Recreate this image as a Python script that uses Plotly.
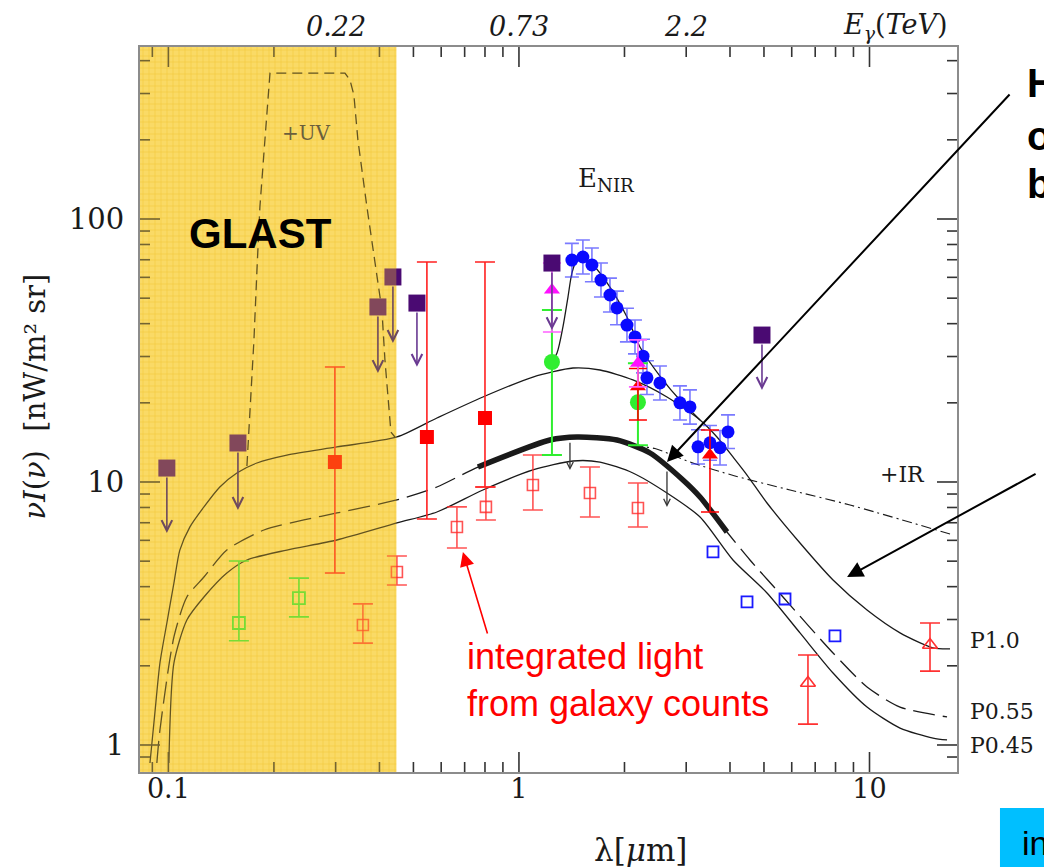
import numpy as np
import plotly.graph_objects as go

# ---------------- model curves: wavelength [micron] vs nuI_nu [nW m^-2 sr^-1] ----------------
lam_p10 = [0.0886, 0.0915, 0.0946, 0.099, 0.1037, 0.1078, 0.1151, 0.1263, 0.1402, 0.1568, 0.1789,
           0.2178, 0.3025, 0.4486, 0.5834, 0.7893, 1.096, 1.426, 1.703, 2.114, 2.644, 3.285, 3.672,
           4.079, 4.473, 5.101, 6.335, 7.87, 9.838, 12.22, 15.18, 16.97]
nui_p10 = [0.854, 1.323, 2.05, 2.91, 4.13, 5.51, 6.74, 8.04, 9.57, 10.82, 11.81,
           12.66, 13.59, 14.83, 17.51, 21.05, 25.07, 27.13, 26.66, 24.43, 21.05, 17.21, 14.83,
           12.45, 10.63, 8.32, 5.86, 4.24, 3.26, 2.67, 2.34, 2.32]

lam_p055 = [0.0927, 0.0946, 0.1037, 0.1129, 0.1263, 0.1468, 0.1873, 0.2435, 0.3025, 0.4486, 0.5834,
            0.7637, 1.226, 1.464, 1.904, 2.365, 2.937, 3.285, 3.921, 4.561, 5.665, 7.87, 9.838,
            12.22, 16.64]
nui_p055 = [0.854, 1.14, 2.575, 3.653, 4.352, 5.513, 6.569, 7.171, 7.624, 8.542, 9.572,
            11.40, 14.44, 14.83, 14.44, 12.89, 10.18, 8.77, 6.454, 5.052, 3.653, 2.238, 1.662,
            1.394, 1.278]

lam_p045 = [0.1003, 0.1037, 0.1129, 0.1263, 0.1468, 0.1675, 0.2178, 0.3025, 0.4486, 0.5834, 0.7893,
            1.096, 1.426, 1.703, 2.114, 2.644, 3.285, 4.079, 5.101, 6.335, 7.87, 9.838, 12.22,
            15.18, 16.64]
nui_p045 = [0.854, 2.05, 2.988, 3.653, 4.508, 5.052, 5.513, 6.018, 6.985, 7.69, 9.325,
            11.11, 12.02, 11.91, 10.82, 9.08, 7.36, 5.052, 3.784, 2.667, 1.878, 1.394, 1.16,
            1.063, 1.045]

# wavelength window of the thick (probed) part of the P0.55 curve
thick_range = (0.76, 3.95)

# "+UV" component
lam_uv = [0.1675, 0.1697, 0.1719, 0.1754, 0.1789, 0.1824, 0.1885, 0.1935, 0.1949, 0.3189, 0.3295,
          0.3382, 0.3472, 0.3684, 0.3935, 0.4065, 0.4147, 0.4228, 0.4313, 0.4428]
nui_uv = [11.5, 15.77, 21.05, 34.67, 63.9, 111.1, 199.7, 323.2, 358.9, 358.9, 337.8,
          296.1, 199.7, 111.1, 62.3, 45.1, 29.1, 20.5, 15.49, 14.83]

# "+IR" component
lam_ir = [2.114, 2.443, 3.075, 4.133, 5.933, 8.799, 16.97]
nui_ir = [13.75, 13.4, 11.91, 10.54, 9.325, 8.176, 6.343]

# near-IR excess (E_NIR) bump
lam_nir = [1.21, 1.284, 1.335, 1.38, 1.416, 1.464, 1.522, 1.626, 1.818, 2.033, 2.214, 2.576,
           2.879, 3.075, 3.285]
nui_nir = [27.13, 30.94, 38.85, 50.5, 62.3, 69.8, 71.1, 66.8, 55.1, 42.4, 32.6, 24.4,
           20.5, 18.8, 17.21]

# ---------------- measurements ----------------
# upper limits (purple squares with arrows)
ul_lam = [0.099, 0.1579, 0.396, 0.437, 0.5117, 1.242, 4.935]
ul_nui = [11.3, 14.07, 46.3, 60.2, 47.9, 68.0, 36.2]
ul_tip = [6.4, 7.83, 25.97, 33.8, 27.4, 37.8, 22.4]

# filled red squares
rsq_lam = [0.2985, 0.5463, 0.80]
rsq_nui = [11.91, 14.83, 17.51]
rsq_hi = [27.37, 68.6, 68.6]
rsq_lo = [4.51, 7.23, 9.57]

# integrated galaxy counts (open red squares)
gc_lam = [0.3588, 0.4486, 0.6654, 0.805, 1.096, 1.594, 2.185]
gc_nui = [2.86, 4.55, 6.74, 8.04, 9.74, 9.08, 7.96]
gc_hi = [3.44, 5.23, 8.04, 9.57, 12.66, 11.4, 9.91]
gc_lo = [2.44, 4.06, 5.61, 7.17, 7.83, 7.36, 6.74]

# green open squares (UV)
gsq_lam = [0.1589, 0.2357]
gsq_nui = [2.91, 3.62]
gsq_hi = [5.01, 4.31]
gsq_lo = [2.49, 3.07]

# green filled circles
gci_lam = [1.242, 2.185]
gci_nui = [28.6, 20.1]
gci_hi = [45.1, 28.3]
gci_lo = [12.66, 13.8]

# magenta triangles
mtr_lam = [1.242, 2.185]
mtr_nui = [53.7, 28.3]
mtr_hi = [68.0, 34.7]
mtr_lo = [37.2, 23.0]

# red filled triangles
rtr_lam = [2.185, 3.507]
rtr_nui = [23.0, 12.66]
rtr_hi = [27.0, 15.77]
rtr_lo = [17.2, 7.69]

# red open triangles (mid-IR)
rto_lam = [6.675, 14.88]
rto_nui = [1.72, 2.40]
rto_hi = [2.20, 2.91]
rto_lo = [1.20, 1.91]

# blue open squares
bsq_lam = [3.577, 4.473, 5.741, 7.97]
bsq_nui = [5.42, 3.50, 3.59, 2.60]

# blue filled circles (near-IR measurements)
bci_lam = [1.416, 1.522, 1.615, 1.714, 1.818, 1.904, 2.033, 2.143, 2.259, 2.318, 2.525, 2.879,
           3.075, 3.242, 3.507, 3.746, 3.948]
bci_nui = [69.8, 71.7, 66.9, 58.6, 51.4, 45.9, 39.5, 35.6, 30.1, 24.9, 23.8, 20.0,
           19.3, 13.6, 14.1, 13.5, 15.5]
bci_plus = [11, 11.5, 10.7, 9.4, 8.2, 7.3, 6.3, 5.7, 4.8, 4.0, 3.8, 3.2, 3.1, 2.2, 2.3, 2.2, 2.5]
bci_minus = [9.6, 9.9, 9.2, 8.1, 7.1, 6.3, 5.4, 4.9, 4.1, 3.4, 3.3, 2.8, 2.7, 1.9, 2.0, 1.9, 2.1]

# upper-limit arrows on the thick curve
bl_lam = [1.398, 2.644]
bl_from = [14.3, 11.1]
bl_to = [11.1, 8.04]

# top axis: gamma-ray energies corresponding to wavelengths
top_tick_lam = [0.3, 1.0, 3.0]
top_tick_text = ["0.22", "0.73", "2.2"]

x_tick_vals = [0.1, 1, 10]
x_tick_text = ["0.1", "1", "10"]
y_tick_vals = [1, 10, 100]
y_tick_text = ["1", "10", "100"]
minor_x = [0.09, 0.2, 0.3, 0.4, 0.5, 0.6, 0.7, 0.8, 0.9, 2, 3, 4, 5, 6, 7, 8, 9]
minor_y = [0.9, 2, 3, 4, 5, 6, 7, 8, 9, 20, 30, 40, 50, 60, 70, 80, 90, 200, 300, 400]

glast_band = (0.08, 0.447)

# ---------------- styling ----------------
SERIF = "DejaVu Serif"
SANS = "Liberation Sans"
INK = "#1a1a1a"
TICK = "#333333"
X_RANGE = [-1.081, 1.2496]
Y_RANGE = [-0.1027, 2.654]
W, H = 1044, 867
MARGIN = dict(l=140, r=87, t=47, b=95)
MAJOR_LEN, MINOR_LEN = 20, 10   # tick lengths in pixels


def err(y, hi, lo, color, width=8, thick=1.6):
    y = np.asarray(y, float)
    return dict(type="data", symmetric=False, array=np.asarray(hi) - y,
                arrayminus=y - np.asarray(lo), color=color, thickness=thick, width=width)


fig = go.Figure()

# GLAST band background (fine grid fill)
fig.add_trace(go.Scatter(
    x=[glast_band[0], glast_band[1], glast_band[1], glast_band[0], glast_band[0]],
    y=[0.5, 0.5, 900, 900, 0.5], mode="lines", fill="toself", line=dict(width=0),
    fillcolor="#fde07a",
    fillpattern=dict(shape="+", bgcolor="#fde382", fgcolor="#e8b620", size=6, solidity=0.25),
    hoverinfo="skip"))


def curve(x, y, dash="solid", width=1.3, shape="spline"):
    return go.Scatter(x=x, y=y, mode="lines", hoverinfo="skip",
                      line=dict(color=INK, width=width, dash=dash, shape=shape, smoothing=0.7))


fig.add_trace(curve(lam_p10, nui_p10))
fig.add_trace(curve(lam_p055, nui_p055, dash="22px,8px"))
fig.add_trace(curve(lam_p045, nui_p045))
fig.add_trace(curve(lam_uv, nui_uv, dash="10px,6px", width=1.3, shape="linear"))
fig.add_trace(curve(lam_ir, nui_ir, dash="10px,4px,2px,4px", width=1.1))
fig.add_trace(curve(lam_nir, nui_nir, width=1.3))

lp = np.array(lam_p055)
mask = (lp >= thick_range[0]) & (lp <= thick_range[1])
fig.add_trace(curve(lp[mask], np.array(nui_p055)[mask], width=5.5))

# measurements
fig.add_trace(go.Scatter(x=bci_lam, y=bci_nui, mode="markers",
                         marker=dict(symbol="circle", size=13, color="#0a0aff"),
                         error_y=dict(type="data", symmetric=False, array=bci_plus,
                                      arrayminus=bci_minus, color="rgba(50,50,255,0.65)",
                                      thickness=1.6, width=7)))
fig.add_trace(go.Scatter(x=gc_lam, y=gc_nui, mode="markers",
                         marker=dict(symbol="square-open", size=11, color="rgba(255,40,40,0.8)",
                                     line=dict(width=1.6)),
                         error_y=err(gc_nui, gc_hi, gc_lo, "rgba(255,40,40,0.8)", width=10)))
fig.add_trace(go.Scatter(x=gsq_lam, y=gsq_nui, mode="markers",
                         marker=dict(symbol="square-open", size=12, color="#39e639",
                                     line=dict(width=1.8)),
                         error_y=err(gsq_nui, gsq_hi, gsq_lo, "#39e639", width=10)))
fig.add_trace(go.Scatter(x=rsq_lam, y=rsq_nui, mode="markers",
                         marker=dict(symbol="square", size=14, color="#ff0000"),
                         error_y=err(rsq_nui, rsq_hi, rsq_lo, "#ff2020", width=10)))
fig.add_trace(go.Scatter(x=gci_lam, y=gci_nui, mode="markers",
                         marker=dict(symbol="circle", size=16, color="#30ee30"),
                         error_y=err(gci_nui, gci_hi, gci_lo, "#30ee30", width=10, thick=2)))
fig.add_trace(go.Scatter(x=rtr_lam, y=rtr_nui, mode="markers",
                         marker=dict(symbol="triangle-up", size=14, color="#ff0000"),
                         error_y=err(rtr_nui, rtr_hi, rtr_lo, "#ff0000", width=9)))
fig.add_trace(go.Scatter(x=mtr_lam, y=mtr_nui, mode="markers",
                         marker=dict(symbol="triangle-up", size=14, color="#ff10ff"),
                         error_y=err(mtr_nui, mtr_hi, mtr_lo, "#ff60ff", width=9)))
fig.add_trace(go.Scatter(x=rto_lam, y=rto_nui, mode="markers",
                         marker=dict(symbol="triangle-up-open", size=13, color="#ff3030",
                                     line=dict(width=1.6)),
                         error_y=err(rto_nui, rto_hi, rto_lo, "#ff3030", width=10)))
fig.add_trace(go.Scatter(x=bsq_lam, y=bsq_nui, mode="markers",
                         marker=dict(symbol="square-open", size=11, color="#1a1aff",
                                     line=dict(width=1.8))))
fig.add_trace(go.Scatter(x=ul_lam, y=ul_nui, mode="markers",
                         marker=dict(symbol="square", size=17, color="#4a0a72")))

# ---- inward frame ticks on all four sides, as line segments on the log scales ----
plot_w = W - MARGIN["l"] - MARGIN["r"]
plot_h = H - MARGIN["t"] - MARGIN["b"]
dec_per_px_x = (X_RANGE[1] - X_RANGE[0]) / plot_w
dec_per_px_y = (Y_RANGE[1] - Y_RANGE[0]) / plot_h
tx, ty = [], []
for vals, length in ((x_tick_vals, MAJOR_LEN), (minor_x, MINOR_LEN)):
    dy = length * dec_per_px_y
    for v in vals:
        # bottom edge, pointing up
        tx += [v, v, None]
        ty += [10 ** Y_RANGE[0], 10 ** (Y_RANGE[0] + dy), None]
        # top edge, pointing down
        tx += [v, v, None]
        ty += [10 ** Y_RANGE[1], 10 ** (Y_RANGE[1] - dy), None]
for vals, length in ((y_tick_vals, MAJOR_LEN), (minor_y, MINOR_LEN)):
    dx = length * dec_per_px_x
    for v in vals:
        tx += [10 ** X_RANGE[0], 10 ** (X_RANGE[0] + dx), None]
        ty += [v, v, None]
        tx += [10 ** X_RANGE[1], 10 ** (X_RANGE[1] - dx), None]
        ty += [v, v, None]
fig.add_trace(go.Scatter(x=tx, y=ty, mode="lines", line=dict(color=TICK, width=1.6),
                         hoverinfo="skip", connectgaps=False))

shapes = [
    # GLAST tint over everything plotted in the band
    dict(type="rect", xref="x", yref="paper", x0=glast_band[0], x1=glast_band[1], y0=0, y1=1,
         fillcolor="rgba(245,200,45,0.33)", line=dict(width=0), layer="above"),
    # cyan box at the lower right
    dict(type="rect", xref="paper", yref="paper", x0=1.0526, x1=1.2, y0=-0.2, y1=-0.0497,
         fillcolor="#00bfff", line=dict(width=0), layer="above"),
]

annotations = []
# upper-limit arrows
for lam, y0, y1 in zip(ul_lam, ul_nui, ul_tip):
    col = "#6e4a5e" if lam < glast_band[1] else "#6a3a92"
    annotations.append(dict(x=np.log10(lam), y=np.log10(y1), ax=np.log10(lam), ay=np.log10(y0),
                            xref="x", yref="y", axref="x", ayref="y", text="", showarrow=True,
                            arrowhead=5, arrowsize=1.3, arrowwidth=1.6, arrowcolor=col,
                            standoff=0, startstandoff=8))
for lam, y0, y1 in zip(bl_lam, bl_from, bl_to):
    annotations.append(dict(x=np.log10(lam), y=np.log10(y1), ax=np.log10(lam), ay=np.log10(y0),
                            xref="x", yref="y", axref="x", ayref="y", text="", showarrow=True,
                            arrowhead=5, arrowsize=1.0, arrowwidth=1.3, arrowcolor="#333",
                            standoff=0))

# pointer arrows
annotations += [
    dict(x=np.log10(2.644), y=np.log10(11.91), xref="x", yref="y", ax=344, ay=-369, text="",
         showarrow=True, arrowhead=2, arrowsize=1.6, arrowwidth=2, arrowcolor="#000", standoff=0),
    dict(x=np.log10(8.63), y=np.log10(4.35), xref="x", yref="y", ax=190, ay=-104, text="",
         showarrow=True, arrowhead=2, arrowsize=1.6, arrowwidth=2, arrowcolor="#000", standoff=0),
    dict(x=np.log10(0.692), y=np.log10(5.42), xref="x", yref="y", ax=25, ay=83, text="",
         showarrow=True, arrowhead=2, arrowsize=1.8, arrowwidth=1.6, arrowcolor="#ff0000",
         standoff=0),
]

# energy labels along the top edge, placed on the wavelength scale
for lam, txt in zip(top_tick_lam, top_tick_text):
    annotations.append(dict(x=np.log10(lam), y=1.0276, xref="x", yref="paper",
                            text="<i>%s</i>" % txt, showarrow=False, yanchor="middle",
                            font=dict(family=SERIF, size=27, color=INK)))


def label(text, x, y, size, family=SERIF, color=INK, xanchor="center", **kw):
    d = dict(text=text, x=x, y=y, xref="paper", yref="paper", showarrow=False,
             font=dict(family=family, size=size, color=color), xanchor=xanchor, yanchor="middle")
    d.update(kw)
    return d


annotations += [
    label("<b>GLAST</b>", 0.1481, 0.7434, 42, family=SANS, color="#000"),
    label("+UV", 0.2032, 0.8814, 20, color="#6b5f3c"),
    label("E<sub>NIR</sub>", 0.5704, 0.8166, 26),
    label("+IR", 0.9339, 0.4097, 22),
    label("P1.0", 1.0135, 0.1807, 22, xanchor="left"),
    label("P0.55", 1.0135, 0.0841, 22, xanchor="left"),
    label("P0.45", 1.0135, 0.0359, 22, xanchor="left"),
    label("integrated light<br>from galaxy counts", 0.3978, 0.1269, 36, family=SANS,
          color="#ff0000", xanchor="left", align="left"),
    label("<b>H</b>", 1.0832, 0.9503, 40, family=SANS, color="#000", xanchor="left"),
    label("<b>o</b>", 1.0832, 0.8772, 40, family=SANS, color="#000", xanchor="left"),
    label("<b>b</b>", 1.0832, 0.8110, 40, family=SANS, color="#000", xanchor="left"),
    label("in", 1.0771, -0.0979, 34, family=SANS, color="#000", xanchor="left"),
    label("<i>E<sub>γ</sub></i>(<i>TeV</i>)", 0.9253, 1.0276, 27),
    label("λ[<i>μ</i>m]", 0.612, -0.1076, 31),
    label("<i>νI</i>(<i>ν</i>)  [nW/m² sr]", -0.1285, 0.518, 29, textangle=-90),
]

axis_common = dict(type="log", showgrid=False, zeroline=False, tickmode="array",
                   showline=True, linecolor="#8c8c8c", linewidth=2, mirror=True, ticks="")

fig.update_layout(
    width=W, height=H, margin=MARGIN,
    paper_bgcolor="white", plot_bgcolor="white", showlegend=False,
    xaxis=dict(range=X_RANGE, tickvals=x_tick_vals, ticktext=x_tick_text,
               tickfont=dict(family=SERIF, size=27, color=INK), ticklabelstandoff=-8,
               **axis_common),
    yaxis=dict(range=Y_RANGE, tickvals=y_tick_vals, ticktext=y_tick_text,
               tickfont=dict(family=SERIF, size=29, color=INK), ticklabelstandoff=8,
               **axis_common),
    shapes=shapes,
    annotations=annotations,
)

fig.write_html("out.html")
